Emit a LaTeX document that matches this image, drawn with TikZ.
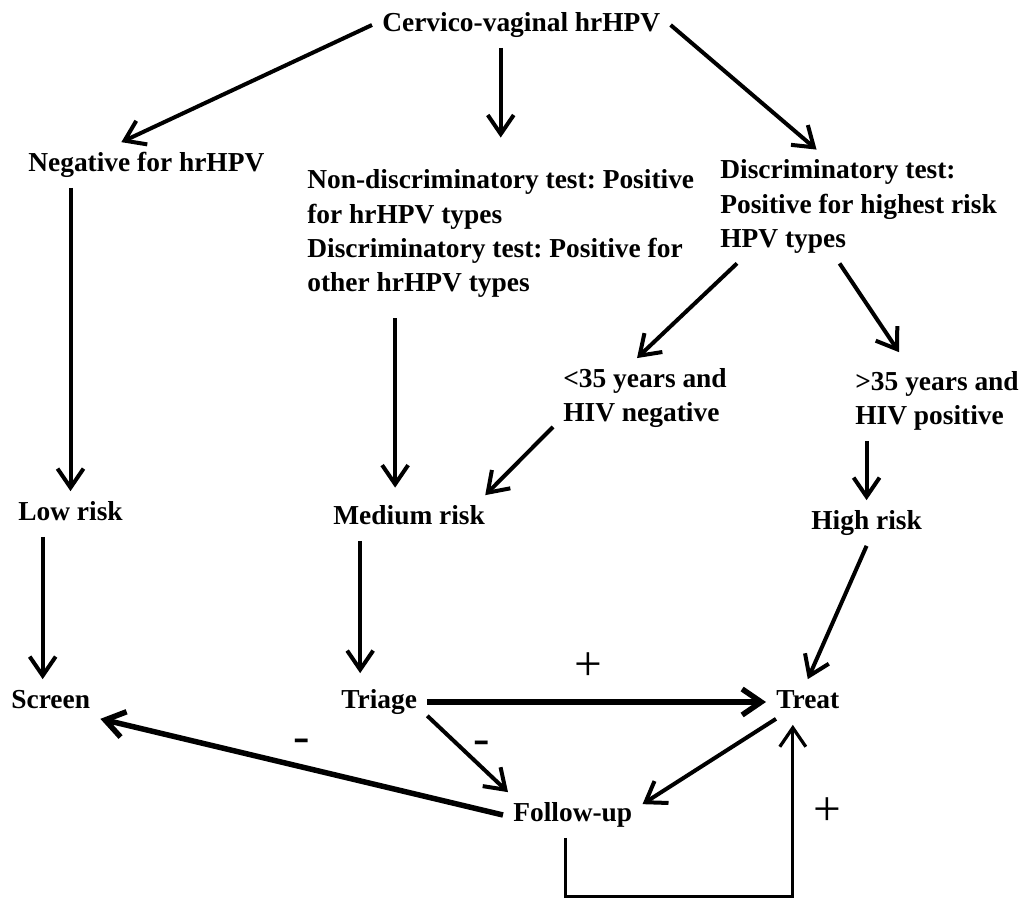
\documentclass[tikz,border=0pt]{standalone}
\usepackage{fontspec}
\setmainfont{Liberation Serif}
\usetikzlibrary{arrows.meta}
\frenchspacing

\begin{document}
\begin{tikzpicture}[x=0.2mm, y=-0.2mm,
	txt/.style={font=\bfseries\fontsize{15.6}{19.4}\selectfont, inner sep=2mm, anchor=west},
	box/.style={txt, text height=3.8mm, text depth=1.2mm},
	block/.style={txt, align=left},
	sign/.style={font=\fontsize{28}{34}\selectfont, inner sep=0},
	arr/.style={line width=0.8mm, -{Straight Barb[length=3.8mm,width=5.2mm]}},
	fat/.style={arr, line width=1.1mm}]
	\useasboundingbox (0,0) rectangle (1030,899);

	% texts
	\node[box]	 (top)	   at (372,25)	  {Cervico-vaginal hrHPV};
	\node[box]	 (neg)	   at (18,165)	  {Negative for hrHPV};
	\node[block] (nondisc) at (297,233.5) {Non-discriminatory test: Positive\\for hrHPV types\\Discriminatory test: Positive for\\other hrHPV types};
	\node[block] (disc)	   at (710,206.5) {Discriminatory test:\\Positive for highest risk\\HPV types};
	\node[block] (young)   at (553,398)	  {<35 years and\\HIV negative};
	\node[block] (old)	   at (845,401)	  {>35 years and\\HIV positive};
	\node[box]	 (low)	   at (8,514)	  {Low risk};
	\node[box]	 (med)	   at (323,518)	  {Medium risk};
	\node[box]	 (high)	   at (801,523)	  {High risk};
	\node[box]	 (screen)  at (1,702)	  {Screen};
	\node[box]	 (triage)  at (331,702)	  {Triage};
	\node[box]	 (treat)   at (766,702)	  {Treat};
	\node[box]	 (follow)  at (503,815)	  {Follow-up};

	% signs
	\node[sign] (plustreat)	 at (588,667) {+};
	\node[sign] (minusscreen) at (302,746) {-};
	\node[sign] (minusfollow) at (482,748) {-};
	\node[sign] (plusloop)	 at (827,812) {+};

	% arrows
	\draw[arr]	(top.west) -- ([xshift=-5mm]neg.north);
	\draw[arr]	(top.south -| nondisc.north) -- ([yshift=4.4mm]nondisc.north);
	\draw[arr]	(top.east) -- ([xshift=-8.4mm]disc.north);
	\draw[arr]	([xshift=5.4mm]disc.south west) -- ([xshift=-1.6mm]young.north);
	\draw[arr]	([xshift=-3.8mm]disc.south) -- ([xshift=-7.6mm,yshift=1.8mm]old.north);
	\draw[arr]	([yshift=2.2mm]young.south west) -- ([xshift=-2mm]med.north east);
	\draw[arr]	(neg.south -| low.north) -- (low.north);
	\draw[arr]	([xshift=-2.8mm,yshift=-2.2mm]med.north |- nondisc.south) -- ([xshift=-2.8mm,yshift=1.5mm]med.north);
	\draw[arr]	(old.south -| high.north) -- (high.north);
	\draw[arr]	([xshift=-1.6mm]low.south -| screen.north) -- ([xshift=-1.6mm]screen.north);
	\draw[arr]	([xshift=-3.8mm]triage.north |- med.south) -- ([xshift=-3.8mm,yshift=1.2mm]triage.north);
	\draw[arr]	(high.south) -- (treat.north);
	\draw[fat]	(triage.east) -- (treat.west);
	\draw[arr]	([yshift=1.8mm]triage.south east) -- ([xshift=1mm]follow.north west);
	\draw[arr]	([xshift=2mm,yshift=1.2mm]treat.south west) -- ([yshift=-2.4mm]follow.north east);
	\draw[fat]	(follow.west) -- ([yshift=1.2mm]screen.south east);
	\draw[arr, line width=0.65mm]	([xshift=-1.5mm]follow.south) -- ++(0,59) -| ([xshift=-3mm]treat.south);
\end{tikzpicture}
\end{document}
